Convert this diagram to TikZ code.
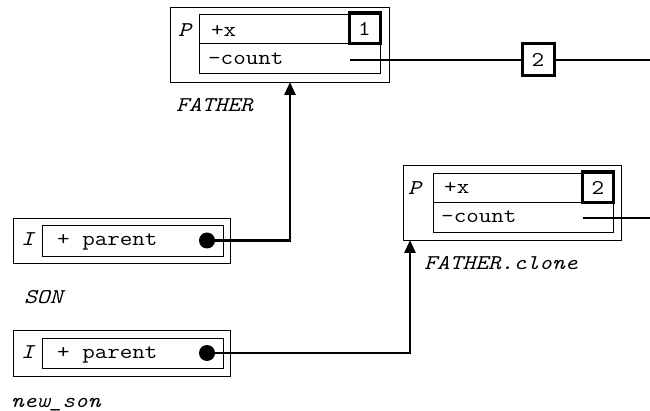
\documentclass[tikz,border=0pt]{standalone}
\usepackage{fontspec}
\setmonofont[FakeStretch=1.16]{Latin Modern Mono}
\usetikzlibrary{arrows.meta}
\tikzset{
  txt/.style={inner sep=0pt, anchor=base west, font=\fontsize{21}{21}\selectfont\ttfamily},
  itxt/.style={txt, font=\fontsize{21}{21}\selectfont\ttfamily\itshape},
  outerbox/.style={draw, line width=0.9pt, inner sep=0pt, minimum width=219pt, minimum height=75pt},
  sonbox/.style={draw, line width=0.9pt, inner sep=0pt, minimum width=217pt, minimum height=45pt},
  thin/.style={line width=0.9pt},
  numbox/.style={draw, line width=3pt, inner sep=0pt, minimum width=31pt, minimum height=31pt, font=\fontsize{21}{21}\selectfont\ttfamily},
  conn/.style={line width=2.8pt},
  arr/.style={conn, -{Triangle[length=13pt,width=11pt]}},
  dot/.style={circle, fill=black, inner sep=0pt, minimum size=16pt}
}
\begin{document}
\begin{tikzpicture}[x=1pt,y=-1pt]
\useasboundingbox (0,0) rectangle (650,411);

% FATHER object
\node[outerbox] (father) at (279.5,44.5) {};
\draw[thin] (199.5,14) rectangle (380,73);
\draw[thin] (199.5,43) -- (380,43);
\node[numbox] (n1) at (364.5,28.5) {1};
\node[itxt] (fP) at (178,37) {P};
\node[txt] (fx) at (211,37) {+x};
\node[txt] (fcount) at (208,65) {-count};
\node[itxt] (flabel) at (176,112) {FATHER};

% count link of FATHER
\coordinate (fc) at (350,60);
\node[numbox, minimum width=32pt, minimum height=32pt] (n2) at (538,60) {2};
\coordinate (fend) at (650,60);
\draw[conn] (fc) -- (n2.west);
\draw[conn] (n2.east) -- (fend);

% FATHER.clone object
\node[outerbox, minimum width=218pt] (clone) at (512,202.5) {};
\draw[thin] (433,173) rectangle (613,232);
\draw[thin] (433,202) -- (613,202);
\node[numbox] (n3) at (598,187.5) {2};
\node[itxt] (cP) at (408,195) {P};
\node[txt] (cx) at (444,194) {+x};
\node[txt] (ccount) at (441,223) {-count};
\node[itxt] (clabel) at (424,270) {FATHER.clone};
\coordinate (cc) at (583,218);
\coordinate (cend) at (650,218);
\draw[conn] (cc) -- (cend);

% SON object
\node[sonbox] (son) at (121.5,240.5) {};
\draw[thin] (42,225) rectangle (223,256);
\node[itxt] (sI) at (21,246) {I};
\node[txt] (sp) at (57,246) {+ parent};
\node[dot] (d1) at (207,240.5) {};
\node[itxt] (slabel) at (24,304) {SON};

% new_son object
\node[sonbox, minimum height=46pt] (nson) at (121.5,353) {};
\draw[thin] (42,338) rectangle (223,368);
\node[itxt] (nI) at (21,358) {I};
\node[txt] (np) at (57,358) {+ parent};
\node[dot] (d2) at (207,353) {};
\node[itxt] (nlabel) at (11,407) {new\_son};

% parent links
\coordinate (fa) at (290,82);
\coordinate (ca) at (410,240);
\draw[arr] (d1.center) -| (fa);
\draw[arr] (d2.center) -| (ca);
\end{tikzpicture}
\end{document}
